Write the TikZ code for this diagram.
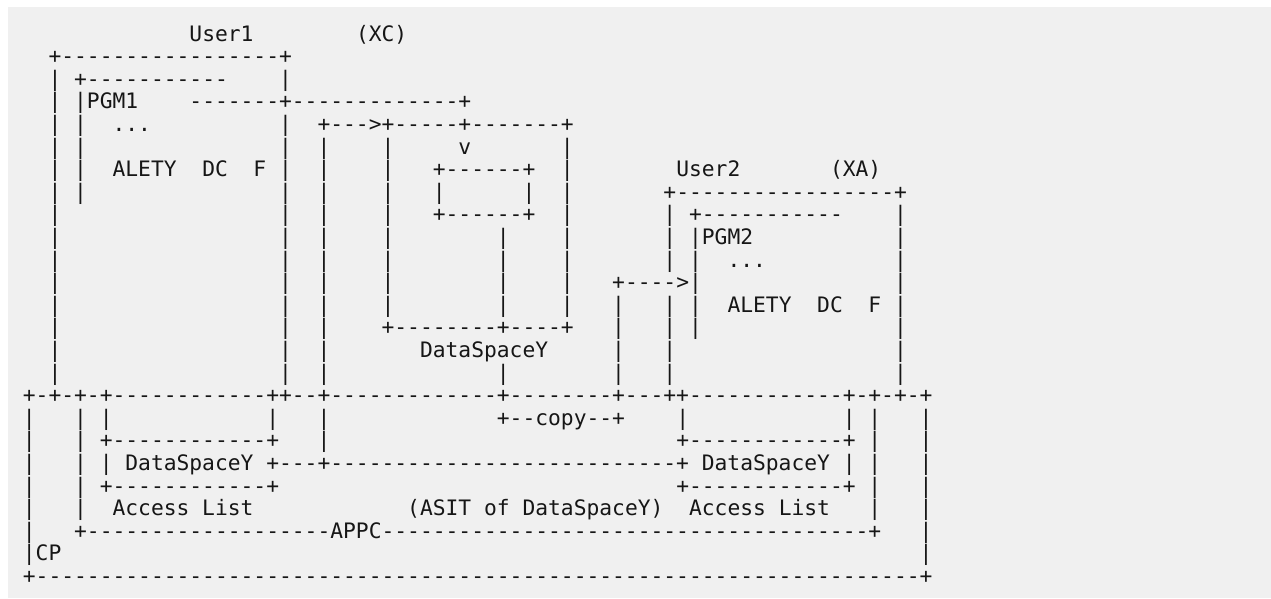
\documentclass[tikz,border=0pt]{standalone}
\usepackage{fontspec}
\setmonofont{DejaVu Sans Mono}
\definecolor{bg}{HTML}{F0F0F0}
\definecolor{ink}{HTML}{161616}
\begingroup\catcode`\ =\active%
\gdef\asciispaces{\catcode`\ =\active\def {\hphantom{x}}}%
\endgroup
\newcommand\asciirow[1]{\begingroup\asciispaces\asciirowaux{#1}}
\newcommand\asciirowaux[2]{\node[art] (r#1) at (22.9,{41.1+22.6*#1}) {#2};\endgroup}
\tikzset{art/.style={anchor=base west, inner sep=0pt, outer sep=0pt, text=ink,
  font=\ttfamily\fontsize{21.28}{22}\selectfont}}
\begin{document}
\begin{tikzpicture}[x=1pt,y=-1pt]
\useasboundingbox (0,0) rectangle (1271,598);
\fill[white] (0,0) rectangle (1271,598);
\fill[bg] (8,7) rectangle (1271,598);
\asciirow{0}{             User1        (XC)}
\asciirow{1}{  +-----------------+}
\asciirow{2}{  | +-----------    |}
\asciirow{3}{  | |PGM1    -------+-------------+}
\asciirow{4}{  | |  ...          |  +--->+-----+-------+}
\asciirow{5}{  | |               |  |    |     v       |}
\asciirow{6}{  | |  ALETY  DC  F |  |    |   +------+  |        User2       (XA)}
\asciirow{7}{  | |               |  |    |   |      |  |       +-----------------+}
\asciirow{8}{  |                 |  |    |   +------+  |       | +-----------    |}
\asciirow{9}{  |                 |  |    |        |    |       | |PGM2           |}
\asciirow{10}{  |                 |  |    |        |    |       | |  ...          |}
\asciirow{11}{  |                 |  |    |        |    |   +---->|               |}
\asciirow{12}{  |                 |  |    |        |    |   |   | |  ALETY  DC  F |}
\asciirow{13}{  |                 |  |    +--------+----+   |   | |               |}
\asciirow{14}{  |                 |  |       DataSpaceY     |   |                 |}
\asciirow{15}{  |                 |  |             |        |   |                 |}
\asciirow{16}{+-+-+-+------------++--+-------------+--------+---++------------+-+-+-+}
\asciirow{17}{|   | |            |   |             +--copy--+    |            | |   |}
\asciirow{18}{|   | +------------+   |                           +------------+ |   |}
\asciirow{19}{|   | | DataSpaceY +---+---------------------------+ DataSpaceY | |   |}
\asciirow{20}{|   | +------------+                               +------------+ |   |}
\asciirow{21}{|   |  Access List            (ASIT of DataSpaceY)  Access List   |   |}
\asciirow{22}{|   +-------------------APPC--------------------------------------+   |}
\asciirow{23}{|CP                                                                   |}
\asciirow{24}{+---------------------------------------------------------------------+}
\end{tikzpicture}
\end{document}
